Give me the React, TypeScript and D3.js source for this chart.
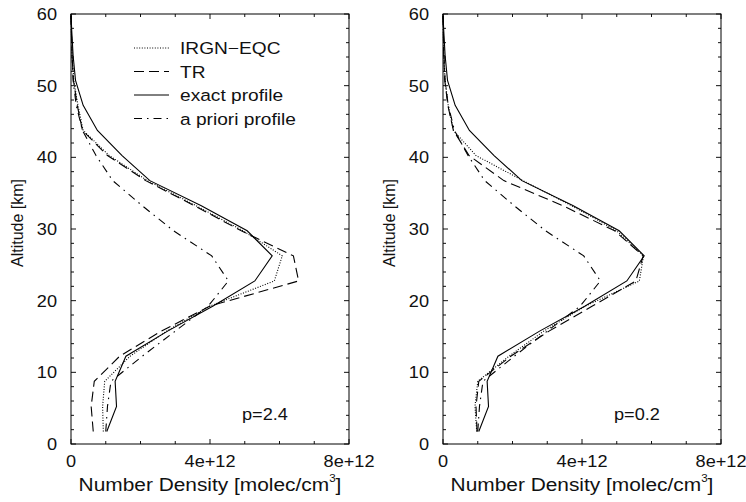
import React from "react";
import * as d3 from "d3";

// Altitude grid [km]
const altitudes = [1.75, 5.25, 8.75, 12.25, 15.75, 19.25, 22.75, 26.25, 29.75, 33.25, 36.75, 40.25, 43.75, 47.25, 50.75, 54.25, 57.75, 60];

// Number density in units of 1e12 molec/cm^3
const exactProfile = [1.03, 1.31, 1.27, 1.58, 2.78, 4.09, 5.29, 5.79, 5.07, 3.75, 2.27, 1.47, 0.76, 0.35, 0.13, 0.06, 0.02, 0];
const aprioriProfile = [1.0, 1.05, 1.15, 2.05, 3.0, 3.95, 4.53, 4.05, 2.95, 2.05, 1.2, 0.72, 0.33, 0.15, 0.06, 0.03, 0.01, 0];

// Left panel (p=2.4)
const irgnLeft = [0.93, 0.91, 0.97, 1.7, 2.75, 4.0, 5.85, 6.08, 4.95, 3.6, 2.2, 1.1, 0.35, 0.2, 0.08, 0.03, 0.01, 0];
const trLeft = [0.64, 0.58, 0.67, 1.4, 2.6, 4.0, 6.55, 6.4, 4.9, 3.55, 2.15, 1.05, 0.33, 0.18, 0.07, 0.03, 0.01, 0];

// Right panel (p=0.2)
const irgnRight = [0.97, 0.92, 1.0, 1.9, 2.9, 4.1, 5.65, 5.77, 5.0, 3.7, 2.3, 0.95, 0.3, 0.15, 0.06, 0.02, 0.01, 0];
const trRight = [0.98, 0.95, 1.03, 1.95, 3.05, 4.3, 5.55, 5.76, 4.94, 3.45, 1.75, 0.75, 0.3, 0.14, 0.05, 0.02, 0.01, 0];

const xTickValues = [0, 4, 8];
const xTickLabels = ["0", "4e+12", "8e+12"];
const yTickValues = [0, 10, 20, 30, 40, 50, 60];

const legendLabels = ["IRGN\u2212EQC", "TR", "exact profile", "a priori profile"];
const panelLabels = ["p=2.4", "p=0.2"];

const FONT = "'Liberation Sans', Arial, Helvetica, sans-serif";

const styles = {
  irgn: "1,1.6",
  tr: "10,5",
  exact: "",
  apriori: "8,5,1.5,5",
};

function HText({ x, y, size, sx, anchor, children }: any) {
  return (
    <g transform={`translate(${x},${y}) scale(${sx},1)`}>
      <text x={0} y={0} fontSize={size} fontFamily={FONT} textAnchor={anchor || "start"} fill="#111">
        {children}
      </text>
    </g>
  );
}

function Panel({ left, irgn, tr, pLabel, showLegend }: any) {
  const width = 278;
  const x = d3.scaleLinear().domain([0, 8]).range([left, left + width]);
  const y = d3.scaleLinear().domain([0, 60]).range([444, 14]);
  const line = (vals: number[]) =>
    d3
      .line<number>()
      .x((v) => x(v))
      .y((_, i) => y(altitudes[i]))(vals) as string;

  const xMinor = d3.range(0, 8.001, 1);
  const yMinor = d3.range(0, 60.001, 2);
  const top = y(60);
  const bot = y(0);
  const l = x(0);
  const r = x(8);

  const series = [
    { vals: irgn, dash: styles.irgn },
    { vals: tr, dash: styles.tr },
    { vals: exactProfile, dash: styles.exact },
    { vals: aprioriProfile, dash: styles.apriori },
  ];

  return (
    <g>
      {xMinor.map((v) => {
        const major = v % 4 === 0;
        const len = major ? 5 : 3;
        return (
          <g key={"xt" + v} stroke="#111" strokeWidth={1}>
            <line x1={x(v)} x2={x(v)} y1={bot} y2={bot - len} />
            <line x1={x(v)} x2={x(v)} y1={top} y2={top + len} />
          </g>
        );
      })}
      {yMinor.map((v) => {
        const major = v % 10 === 0;
        const len = major ? 5 : 3;
        return (
          <g key={"yt" + v} stroke="#111" strokeWidth={1}>
            <line x1={l} x2={l + len} y1={y(v)} y2={y(v)} />
            <line x1={r} x2={r - len} y1={y(v)} y2={y(v)} />
          </g>
        );
      })}
      {series.map((s, i) => (
        <path key={"s" + i} d={line(s.vals)} fill="none" stroke="#000" strokeWidth={1.1} strokeDasharray={s.dash || undefined} />
      ))}
      <rect x={l} y={top} width={r - l} height={bot - top} fill="none" stroke="#000" strokeWidth={1} />
      {xTickValues.map((v, i) => (
        <HText key={"xl" + v} x={x(v)} y={467} size={16.5} sx={1.1} anchor="middle">
          {xTickLabels[i]}
        </HText>
      ))}
      {yTickValues.map((v) => (
        <HText key={"yl" + v} x={l - 14} y={y(v) + 6} size={16.5} sx={1.1} anchor="end">
          {String(v)}
        </HText>
      ))}
      <g transform={`translate(${l + 139},491) scale(1.16,1)`}>
        <text x={0} y={0} fontSize={18} fontFamily={FONT} textAnchor="middle" fill="#111">
          Number Density [molec/cm
          <tspan fontSize={10} dy={-9}>3</tspan>
          <tspan dy={9}>]</tspan>
        </text>
      </g>
      <text
        transform={`translate(${l - 48},${(top + bot) / 2 - 6}) rotate(-90)`}
        fontSize={16}
        fontFamily={FONT}
        textAnchor="middle"
        fill="#111"
      >
        Altitude [km]
      </text>
      <HText x={l + 171} y={420} size={16.5} sx={1.1} anchor="start">
        {pLabel}
      </HText>
      {showLegend &&
        series.map((s, i) => {
          const ly = 48 + i * 23.5;
          return (
            <g key={"lg" + i}>
              <line x1={l + 63} x2={l + 98} y1={ly} y2={ly} stroke="#000" strokeWidth={1} strokeDasharray={s.dash || undefined} />
              <HText x={l + 109} y={ly + 6} size={16.5} sx={1.16} anchor="start">
                {legendLabels[i]}
              </HText>
            </g>
          );
        })}
    </g>
  );
}

export default function App() {
  return (
    <svg width={746} height={502} style={{ position: "absolute", left: 0, top: 0, background: "#fff" }}>
      <rect x={0} y={0} width={746} height={502} fill="#fff" />
      <Panel left={71} irgn={irgnLeft} tr={trLeft} pLabel={panelLabels[0]} showLegend={true} />
      <Panel left={443} irgn={irgnRight} tr={trRight} pLabel={panelLabels[1]} showLegend={false} />
    </svg>
  );
}
